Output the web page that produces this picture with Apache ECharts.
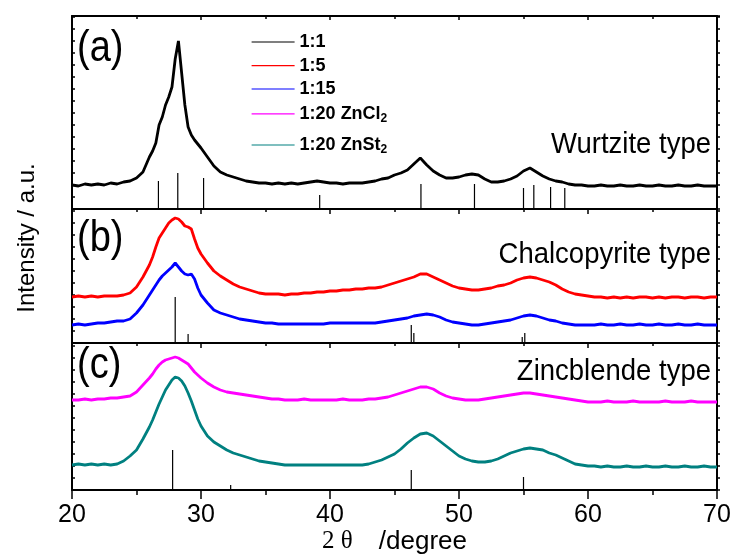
<!DOCTYPE html>
<html><head><meta charset="utf-8">
<script src="https://cdn.jsdelivr.net/npm/echarts@6/dist/echarts.min.js"></script>
<style>html,body{margin:0;padding:0;background:#fff}#c{width:734px;height:557px}</style>
</head><body><div id="c"></div>
<script>
// 2θ sampling positions (degrees)
const theta = [20,20.5,21,21.5,22,22.5,23,23.5,24,24.5,25,25.5,
  26,26.25,26.5,26.75,27,27.25,27.5,27.75,28,28.25,28.5,28.75,29,29.25,29.5,29.75,30,
  30.5,31,31.5,32,32.5,33,33.5,34,34.5,35,
  35.5,36,36.5,37,37.5,38,38.5,39,39.5,40,
  40.5,41,41.5,42,42.5,43,43.5,44,44.5,45,
  45.5,46,46.5,47,47.5,48,48.5,49,49.5,50,
  50.5,51,51.5,52,52.5,53,53.5,54,54.5,55,
  55.5,56,56.5,57,57.5,58,58.5,59,59.5,60,
  60.5,61,61.5,62,62.5,63,63.5,64,64.5,65,
  65.5,66,66.5,67,67.5,68,68.5,69,69.5,70];

// panel (a)
const int1to1 = [24,23,25,24,25,24,26,25,27,28,31,37,
  52,58,66,84,92,104,112,122,150,168,136,104,82,74,69,65,61,
  52,43,37,34,32,30,28,27,26,26,
  25,26,25,26,25,26,27,28,27,26,
  26,25,26,26,26,27,28,30,31,34,
  36,39,45,51,44,38,34,31,31,32,
  34,35,34,30,27,27,28,30,33,38,
  41,37,33,30,28,27,25,24,24,23,
  23,24,23,23,24,23,23,24,23,23,
  24,23,23,24,23,23,24,23,23,23];

// panel (b)
const int1to5 = [46,47,46,47,46,47,47,47,48,50,56,66,
  78,86,96,105,110,115,120,123,125,124,121,117,116,114,104,95,89,
  80,72,67,63,59,56,54,52,50,49,
  49,49,48,49,49,50,50,51,51,52,
  52,53,53,54,54,55,55,56,58,60,
  62,64,66,69,69,66,63,60,57,55,
  54,53,53,54,55,57,58,60,63,65,
  66,65,63,61,58,54,51,49,48,47,
  46,46,45,46,45,46,45,46,46,45,
  46,45,46,46,45,46,46,45,46,46];
const int1to15 = [18,19,18,19,20,20,21,22,22,24,30,38,
  48,53,58,63,67,70,73,76,80,76,72,69,68,69,64,55,48,
  40,33,30,28,26,24,23,22,21,20,
  20,19,19,19,19,19,19,19,19,20,
  20,20,20,20,20,20,20,21,22,23,
  24,25,27,28,29,28,26,23,21,20,
  19,18,18,19,20,21,22,23,25,27,
  28,27,25,23,22,20,19,18,18,18,
  18,19,18,18,19,18,18,19,18,18,
  19,18,18,19,18,18,19,18,18,18];

// panel (c)
const int1to20ZnCl2 = [90,90,91,90,91,91,92,92,93,94,98,105,
  112,116,121,125,128,130,131,132,133,132,130,128,126,122,118,115,112,
  107,103,100,98,97,96,95,94,93,92,
  91,91,90,90,90,91,90,90,90,90,
  90,91,90,90,90,91,91,92,93,95,
  97,99,101,103,103,101,97,94,92,91,
  90,90,90,91,92,93,94,95,96,97,
  97,96,95,94,93,92,91,90,89,88,
  88,88,89,88,88,88,89,88,88,88,
  88,89,88,88,88,89,88,88,88,88];
const int1to20ZnSt2 = [25,26,25,26,25,26,25,26,29,34,40,51,
  63,70,78,86,93,100,105,110,113,112,109,104,97,89,80,71,64,
  54,48,44,40,37,35,33,31,29,28,
  27,26,25,25,25,25,25,25,25,25,
  25,25,25,25,25,26,28,30,33,36,
  41,47,52,56,57,54,49,44,39,34,
  31,29,28,28,29,31,34,37,39,41,
  42,41,40,37,35,32,29,26,25,24,
  24,23,24,23,23,24,23,23,24,23,
  23,24,23,23,24,23,23,24,23,23];

// reference patterns (position, relative intensity)
const wurtzitePos = [26.7,28.2,30.2,39.2,47.05,51.2,55.0,55.8,57.1,58.2];
const wurtziteInt = [28,36,31,14,25,25,21,24,22,21];
const chalcoPos = [28.0,29.0,46.3,46.5,54.9,55.1];
const chalcoInt = [46,9,18,10,6,10];
const zincPos = [27.8,32.3,46.3,55.0];
const zincInt = [40,5,20,13];

const seriesNames = ['1:1','1:5','1:15','1:20 ZnCl2','1:20 ZnSt2'];
const seriesColors = ['#000000','#ff0000','#0000ff','#ff00ff','#008080'];
const panelLabels = ['(a)','(b)','(c)'];
const typeLabels = ['Wurtzite type','Chalcopyrite type','Zincblende type'];
const xTitle = ['2 θ', '/degree'];
const yTitle = 'Intensity / a.u.';

const pairs = (xs, ys) => xs.map((x, i) => [x, ys[i]]);
const FONT = '"Liberation Sans", Arial, sans-serif';

const chart = echarts.init(document.getElementById('c'), null, {renderer: 'canvas'});

const grids = [
  {left: 72, width: 645, top: 16, height: 193},
  {left: 72, width: 645, top: 209, height: 134},
  {left: 72, width: 645, top: 343, height: 147}
];
const yMax = [193, 134, 147];
const axisLine = {show: true, onZero: false, lineStyle: {color: '#000', width: 2}};

const xAxes = [0, 1, 2].map(g => ({
  type: 'value', gridIndex: g, position: 'bottom', min: 20, max: 70, interval: 10,
  axisLine,
  axisTick: {show: true, inside: false, length: g === 2 ? 9 : 5, lineStyle: {color: '#000', width: 1.5}},
  minorTick: {show: true, splitNumber: 2, length: g === 2 ? 5 : 3, lineStyle: {color: '#000', width: 1.5}},
  axisLabel: g === 2 ? {show: true, fontSize: 25, color: '#000', fontFamily: FONT, margin: 13, showMinLabel: true, showMaxLabel: true} : {show: false},
  splitLine: {show: false},
  name: g === 2 ? '{s|' + xTitle[0] + '}{n|' + xTitle[1] + '}' : '',
  nameLocation: 'middle', nameGap: 38,
  nameTextStyle: {rich: {
    s: {fontFamily: '"Liberation Serif", serif', fontSize: 25, color: '#000'},
    n: {fontFamily: FONT, fontSize: 26, color: '#000', padding: [0, 0, 0, 26]}
  }}
}));
xAxes.push({
  type: 'value', gridIndex: 0, position: 'top', min: 20, max: 70, interval: 10,
  axisLine,
  axisTick: {show: true, inside: true, length: 4, lineStyle: {color: '#000', width: 1.5}},
  minorTick: {show: true, splitNumber: 2, length: 3, lineStyle: {color: '#000', width: 1.5}},
  axisLabel: {show: false}, splitLine: {show: false}
});

const yAxes = [];
[0, 1, 2].forEach(g => {
  ['left', 'right'].forEach(pos => {
    yAxes.push({
      type: 'value', gridIndex: g, position: pos, min: 0, max: yMax[g], interval: 12,
      axisLine,
      axisTick: {show: true, inside: pos === 'left', length: 3, lineStyle: {color: '#000', width: 1.5}},
      axisLabel: {show: false}, splitLine: {show: false}
    });
  });
});

const data = [int1to1, int1to5, int1to15, int1to20ZnCl2, int1to20ZnSt2];
const panelOf = [0, 1, 1, 2, 2];
const lineSeries = data.map((arr, i) => ({
  name: seriesNames[i], type: 'line',
  xAxisIndex: panelOf[i], yAxisIndex: panelOf[i] * 2,
  data: pairs(theta, arr),
  symbol: 'none', showSymbol: false,
  lineStyle: {color: seriesColors[i], width: 2.8},
  itemStyle: {color: seriesColors[i]},
  z: 3
}));

const stickSets = [pairs(wurtzitePos, wurtziteInt), pairs(chalcoPos, chalcoInt), pairs(zincPos, zincInt)];
const stickSeries = stickSets.map((d, g) => ({
  type: 'custom', xAxisIndex: g, yAxisIndex: g * 2, data: d,
  encode: {x: 0, y: 1}, z: 2,
  renderItem: (params, api) => {
    const p0 = api.coord([api.value(0), 0]);
    const p1 = api.coord([api.value(0), api.value(1)]);
    return {type: 'line', shape: {x1: p0[0], y1: p0[1], x2: p1[0], y2: p1[1]},
      style: {stroke: '#000', lineWidth: 1.2}};
  }
}));

const legendTops = [33, 56.7, 80, 103.3, 134.5];
const legends = seriesNames.map((n, i) => ({
  data: [n], orient: 'vertical', left: 251, top: legendTops[i], padding: 0,
  itemWidth: 43, itemHeight: 14, itemGap: 0,
  lineStyle: {width: 1.2, color: seriesColors[i]},
  itemStyle: {opacity: 0},
  formatter: name => /2$/.test(name) ? '{n|' + name.slice(0, -1) + '}{s|2}' : '{n|' + name + '}',
  textStyle: {color: '#000', rich: {
    n: {fontFamily: FONT, fontSize: 18, fontWeight: 'bold', color: '#000', lineHeight: 20},
    s: {fontFamily: FONT, fontSize: 12, fontWeight: 'bold', color: '#000', lineHeight: 14, padding: [9, 0, 0, 0]}
  }}
}));

const graphics = [];
const labelY = [49, 239, 366];
panelLabels.forEach((t, i) => graphics.push({
  type: 'text', x: 77, y: labelY[i], scaleY: 1.15,
  style: {text: t, font: '38px ' + FONT, fill: '#000', align: 'left', verticalAlign: 'middle'}
}));
const typeY = [145, 255, 372];
typeLabels.forEach((t, i) => graphics.push({
  type: 'text', x: 711, y: typeY[i], scaleY: 1.1,
  style: {text: t, font: '27.5px ' + FONT, fill: '#000', align: 'right', verticalAlign: 'middle'}
}));
graphics.push({
  type: 'text', x: 27, y: 238, rotation: Math.PI / 2,
  style: {text: yTitle, font: '24px ' + FONT, fill: '#000', align: 'center', verticalAlign: 'middle'}
});

chart.setOption({
  animation: false,
  backgroundColor: '#fff',
  grid: grids,
  xAxis: xAxes,
  yAxis: yAxes,
  legend: legends,
  graphic: graphics,
  series: lineSeries.concat(stickSeries)
});
</script></body></html>
